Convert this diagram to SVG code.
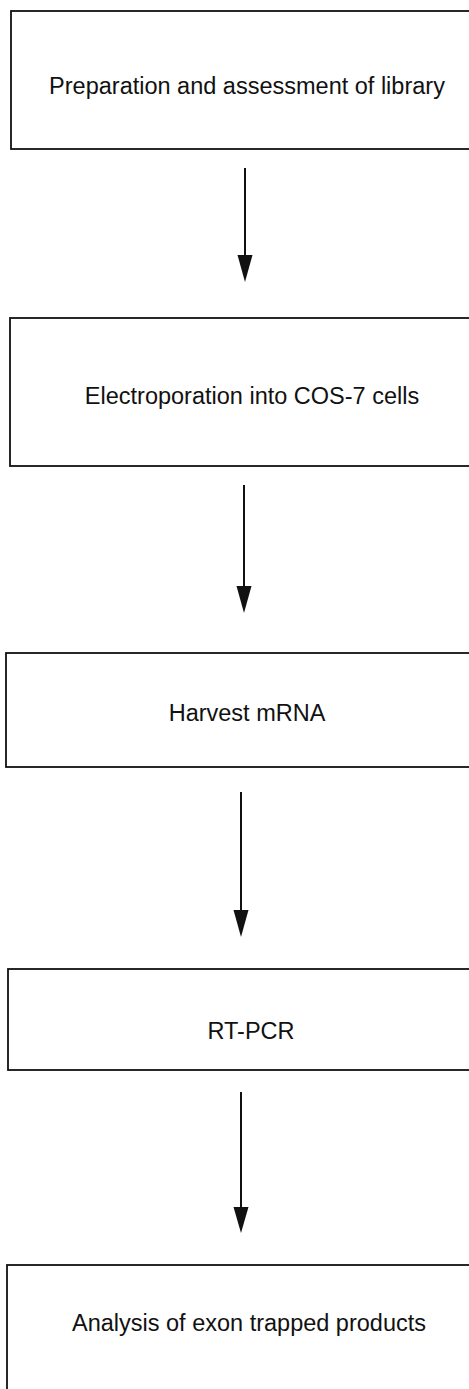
<svg xmlns="http://www.w3.org/2000/svg" width="469" height="1389" viewBox="0 0 469 1389">
<style>
.box{fill:#fff;stroke:#111;stroke-width:1.8}
.lbl{font-family:"Liberation Sans",Arial,sans-serif;font-size:23.5px;fill:#111;text-anchor:middle}
.conn{stroke:#111;stroke-width:2;fill:none}
.head{fill:#111}
</style>
<rect width="469" height="1389" fill="#fff"/>
<g id="n1"><rect class="box" x="11" y="11" width="480" height="138"/><text class="lbl" x="247" y="94">Preparation and assessment of library</text></g>
<g id="n2"><rect class="box" x="10" y="318" width="480" height="148"/><text class="lbl" x="252" y="404">Electroporation into COS-7 cells</text></g>
<g id="n3"><rect class="box" x="6" y="653" width="485" height="114"/><text class="lbl" x="247" y="721">Harvest mRNA</text></g>
<g id="n4"><rect class="box" x="8" y="969" width="485" height="101"/><text class="lbl" x="251" y="1039">RT-PCR</text></g>
<g id="n5"><rect class="box" x="7" y="1265" width="485" height="140"/><text class="lbl" x="249" y="1331">Analysis of exon trapped products</text></g>
<g id="connectors">
<line class="conn" x1="245" y1="168" x2="245" y2="258"/><polygon class="head" points="237.5,255 252.5,255 245,282"/>
<line class="conn" x1="244" y1="485" x2="244" y2="589"/><polygon class="head" points="236.5,586 251.5,586 244,613"/>
<line class="conn" x1="241" y1="792" x2="241" y2="913"/><polygon class="head" points="233.5,910 248.5,910 241,937"/>
<line class="conn" x1="241" y1="1092" x2="241" y2="1210"/><polygon class="head" points="233.5,1207 248.5,1207 241,1233"/>
</g>
</svg>
